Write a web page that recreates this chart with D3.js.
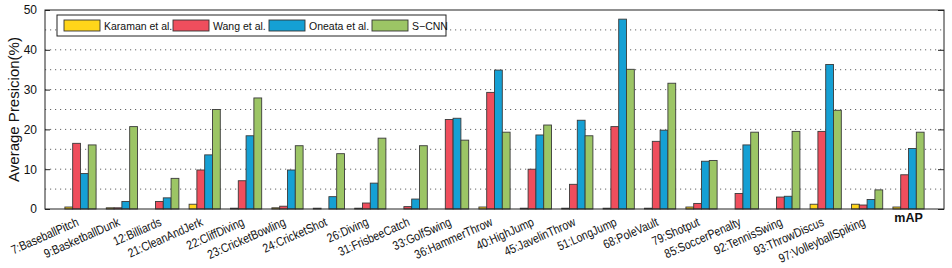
<!DOCTYPE html>
<html><head><meta charset="utf-8">
<script src="https://cdn.jsdelivr.net/npm/d3@7"></script>
<style>body{margin:0;background:#fff}svg{display:block;font-family:"Liberation Sans",Arial,sans-serif}</style>
</head><body><svg id="c" width="952" height="268"></svg>
<script>
const categories = ["7:BaseballPitch","9:BasketballDunk","12:Billiards","21:CleanAndJerk","22:CliffDiving","23:CricketBowling","24:CricketShot","26:Diving","31:FrisbeeCatch","33:GolfSwing","36:HammerThrow","40:HighJump","45:JavelinThrow","51:LongJump","68:PoleVault","79:Shotput","85:SoccerPenalty","92:TennisSwing","93:ThrowDiscus","97:VolleyballSpiking","mAP"];
const seriesNames = ["Karaman et al.","Wang et al.","Oneata et al.","S\u2212CNN"];
const karaman = [0.5,0.3,0,1.2,0.2,0.3,0.2,0.2,0,0,0.5,0.2,0.2,0.2,0.2,0.5,0,0,1.2,1.2,0.5];
const wang    = [16.5,0.3,1.9,9.8,7.1,0.7,0,1.5,0.6,22.5,29.3,10.0,6.2,20.7,17.0,1.4,3.9,3.0,19.5,1.0,8.6];
const oneata  = [8.9,1.9,2.8,13.6,18.4,9.8,3.1,6.5,2.5,22.8,34.9,18.6,22.3,47.7,19.8,12.0,16.1,3.2,36.3,2.4,15.2];
const scnn    = [16.1,20.7,7.7,25.0,27.9,15.9,13.9,17.8,15.9,17.3,19.3,21.1,18.4,35.1,31.6,12.2,19.3,19.5,24.8,4.8,19.3];
const yTicks = [0,10,20,30,40,50];
const colors = ["#ffd51a","#ef4e5d","#15a0d4","#9cc565"];
const series = [karaman,wang,oneata,scnn];

const svg = d3.select("#c");
const L=45, R=944, T=10, B=209;
const x = d3.scalePoint().domain(categories).range([L,R]).padding(0.857);
const y = d3.scaleLinear().domain([0,50]).range([B,T]);
const bw = 7.8;

// grid
svg.append("g").selectAll("line").data(d3.range(5,50,5)).join("line")
  .attr("x1",L).attr("x2",R).attr("y1",d=>y(d)).attr("y2",d=>y(d))
  .attr("stroke","#666").attr("stroke-width",1).attr("stroke-dasharray","1.2,3.8");

// bars
series.forEach((s,si)=>{
  svg.append("g").selectAll("rect").data(s).join("rect")
    .attr("x",(d,i)=>x(categories[i])+(si-2)*bw)
    .attr("width",bw)
    .attr("y",d=>y(d))
    .attr("height",d=>B-y(d))
    .attr("fill",colors[si])
    .attr("stroke",d=>d>0?"#3a3a3a":"none")
    .attr("stroke-width",0.9);
});

// frame
svg.append("rect").attr("x",L).attr("y",T).attr("width",R-L).attr("height",B-T)
  .attr("fill","none").attr("stroke","#222").attr("stroke-width",1);

// y axes
const yl = svg.append("g").attr("transform",`translate(${L},0)`)
  .call(d3.axisLeft(y).tickValues(yTicks).tickSize(-5).tickPadding(8));
const yr = svg.append("g").attr("transform",`translate(${R},0)`)
  .call(d3.axisRight(y).tickValues(yTicks).tickSize(-6).tickFormat(""));
[yl,yr].forEach(g=>{g.select(".domain").remove();g.selectAll("line").attr("stroke","#222");});
yl.selectAll("text").attr("font-size",12).attr("fill","#111").attr("font-family","Liberation Sans, Arial, sans-serif");

svg.append("text").attr("transform",`translate(19,${(T+B)/2}) rotate(-90)`)
  .attr("text-anchor","middle").attr("font-size",15).attr("fill","#111").text("Average Presicion(%)");

// x labels
svg.append("g").selectAll("text").data(categories).join("text")
  .attr("transform",d=> d==="mAP" ? `translate(${x(d)},${222})` : `translate(${x(d)-1},${225}) rotate(-24) scale(0.84,1)`)
  .attr("text-anchor",d=>d==="mAP"?"middle":"end")
  .attr("font-size",12.5).attr("font-weight",d=>d==="mAP"?"bold":"normal").attr("fill","#111")
  .text(d=>d);

// legend
const lg = svg.append("g");
lg.append("rect").attr("x",57).attr("y",15).attr("width",389).attr("height",21)
  .attr("fill","#fff").attr("stroke","#222").attr("stroke-width",1);
const lx = [64,173,269,372];
seriesNames.forEach((n,i)=>{
  lg.append("rect").attr("x",lx[i]).attr("y",20).attr("width",36).attr("height",11)
    .attr("fill",colors[i]).attr("stroke","#333").attr("stroke-width",0.9);
  lg.append("text").attr("x",lx[i]+40).attr("y",29.5).attr("font-size",10.5).attr("fill","#111").text(n);
});
</script></body></html>
